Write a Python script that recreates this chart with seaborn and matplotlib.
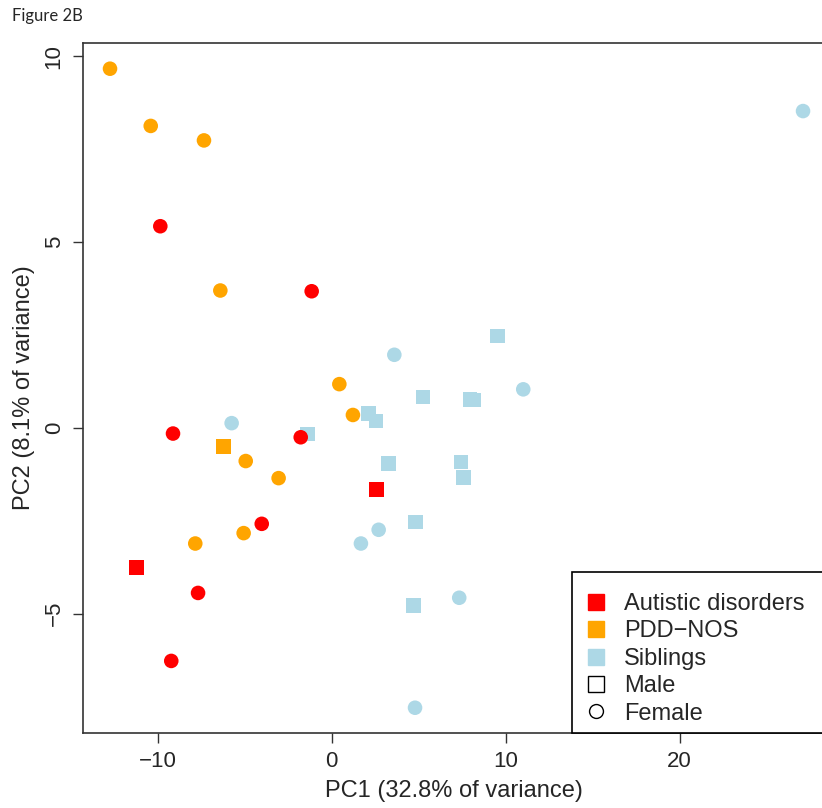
import matplotlib
matplotlib.use("Agg")
import matplotlib.pyplot as plt
from matplotlib.lines import Line2D
from matplotlib.patches import Rectangle
import seaborn as sns
import pandas as pd

# PCA scores
sib_pc1 = [9.52, 5.25, 7.95, 8.18, 2.10, 2.55, -1.40, 3.28, 7.43, 7.56, 4.81, 4.69,
           3.60, 11.01, -5.75, 2.70, 1.68, 7.33, 4.79, 27.09]
sib_pc2 = [2.48, 0.83, 0.77, 0.75, 0.39, 0.19, -0.16, -0.96, -0.91, -1.33, -2.53, -4.78,
           1.97, 1.04, 0.13, -2.74, -3.11, -4.57, -7.53, 8.53]
sib_sex = ["Male"] * 12 + ["Female"] * 8

pdd_pc1 = [-6.21, -12.74, -10.40, -7.34, -6.40, 0.44, 1.22, -4.94, -3.05, -5.06, -7.84]
pdd_pc2 = [-0.50, 9.67, 8.13, 7.74, 3.70, 1.18, 0.35, -0.89, -1.35, -2.83, -3.11]
pdd_sex = ["Male"] + ["Female"] * 10

aut_pc1 = [2.59, -11.21, -9.85, -1.15, -9.12, -1.78, -4.02, -7.68, -9.22]
aut_pc2 = [-1.66, -3.75, 5.43, 3.68, -0.15, -0.25, -2.58, -4.44, -6.27]
aut_sex = ["Male"] * 2 + ["Female"] * 7

groups = ["Autistic disorders", "PDD\u2212NOS", "Siblings"]
colors = ["#FF0000", "#FFA500", "#ADD8E6"]

df = pd.concat([
    pd.DataFrame({"PC1": sib_pc1, "PC2": sib_pc2, "Sex": sib_sex, "Group": groups[2]}),
    pd.DataFrame({"PC1": pdd_pc1, "PC2": pdd_pc2, "Sex": pdd_sex, "Group": groups[1]}),
    pd.DataFrame({"PC1": aut_pc1, "PC2": aut_pc2, "Sex": aut_sex, "Group": groups[0]}),
], ignore_index=True)

sns.set_style("white")
plt.rcParams["font.family"] = ["Liberation Sans", "DejaVu Sans"]

W, H = 822, 808
fig = plt.figure(figsize=(W / 100, H / 100), dpi=100)
ax = fig.add_axes([82.7 / W, 75 / H, (826 - 82.7) / W, (733 - 42.7) / H])

sns.scatterplot(data=df, x="PC1", y="PC2", hue="Group", style="Sex",
                palette=dict(zip(groups, colors)),
                markers={"Male": "s", "Female": "o"},
                s=110, linewidth=0, legend=False, ax=ax)

ax.set_xlim(-14.31, 28.41)
ax.set_ylim(-8.21, 10.37)
ax.set_xticks([-10, 0, 10, 20])
ax.set_yticks([-5, 0, 5, 10])
ax.set_xticklabels(["\u221210", "0", "10", "20"])
ax.set_yticklabels(["\u22125", "0", "5", "10"], rotation=90, va="center")
ax.tick_params(axis="both", direction="out", length=7, width=1, color="#333333",
               labelsize=16, pad=6, left=True, bottom=True)
for sp in ax.spines.values():
    sp.set_color("#333333")
    sp.set_linewidth(1.2)

ax.set_xlabel("PC1 (32.8% of variance)", fontsize=17, labelpad=6)
ax.set_ylabel("PC2 (8.1% of variance)", fontsize=17, labelpad=6)

# legend box drawn as its own rectangle, R style
box = Rectangle((572 / W, 75 / H), (840 - 572) / W, (733 - 572) / H,
                transform=fig.transFigure, facecolor="white", edgecolor="black",
                linewidth=1.2, zorder=4, clip_on=False)
fig.patches.append(box)

handles = [Line2D([], [], marker="s", linestyle="", markersize=12,
                  markerfacecolor=c, markeredgecolor=c) for c in colors]
handles += [Line2D([], [], marker="s", linestyle="", markersize=12,
                   markerfacecolor="none", markeredgecolor="black"),
            Line2D([], [], marker="o", linestyle="", markersize=10,
                   markerfacecolor="none", markeredgecolor="black")]
leg = fig.legend(handles, groups + ["Male", "Female"], loc="upper left",
                 bbox_to_anchor=(590 / W, 1 - 593 / H),
                 bbox_transform=fig.transFigure, fontsize=17, frameon=False,
                 borderpad=0, labelspacing=0.23, handletextpad=0.95,
                 handlelength=0.5, borderaxespad=0)
leg.set_zorder(5)

fig.text(12 / W, 1 - 16 / H, "Figure 2B", fontsize=12, family="Lato",
         va="center", ha="left")

fig.savefig("out.png", dpi=100)
